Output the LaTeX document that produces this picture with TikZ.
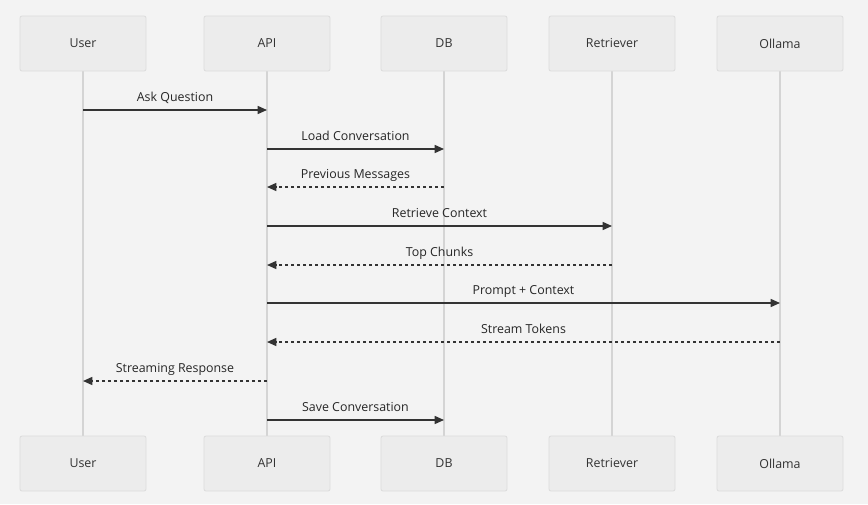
\documentclass[tikz,border=0pt]{standalone}
\usepackage{fontspec}
\setmainfont{Open Sans}
\usetikzlibrary{arrows.meta}
\definecolor{bgc}{HTML}{F3F3F3}
\definecolor{actfill}{HTML}{ECECEC}
\definecolor{actline}{HTML}{DCDCDC}
\definecolor{life}{HTML}{D4D4D4}
\definecolor{msgc}{HTML}{333333}

\begin{document}
\begin{tikzpicture}[x=0.75pt,y=-0.75pt,
  actor/.style={draw=actline,fill=actfill,rounded corners=1.5pt,line width=0.6pt,
    minimum width=94.5pt,minimum height=41.25pt,font=\fontsize{9.3}{11}\selectfont,text=black!80},
  lifeline/.style={draw=life,line width=0.9pt},
  msg/.style={draw=msgc,line width=1.1pt,-{Triangle[length=7pt,width=6pt]}},
  reply/.style={msg,dash pattern=on 2.5pt off 2pt},
  lbl/.style={above=0.4pt,text height=7pt,text depth=2pt,
    font=\fontsize{9.3}{11}\selectfont,text=black!85}]
  \fill[bgc] (0,0) rectangle (868,504);
  \useasboundingbox (0,0) rectangle (868,504);
  % participants, top and bottom
  \foreach \n/\t/\x in {user/User/83,api/API/267,db/DB/444,ret/Retriever/612,oll/Ollama/780} {
    \draw[lifeline] (\x,71) -- (\x,436);
    \node[actor] (top-\n) at (\x,43.5) {\t};
    \node[actor] (bot-\n) at (\x,463.5) {\t};
  }
  % messages
  \draw[msg] (top-user |- 0,110) -- (top-api |- 0,110) node[midway,lbl] {Ask Question};
  \draw[msg] (top-api |- 0,149) -- (top-db |- 0,149) node[midway,lbl] {Load Conversation};
  \draw[reply] (top-db |- 0,187) -- (top-api |- 0,187) node[midway,lbl] {Previous Messages};
  \draw[msg] (top-api |- 0,226) -- (top-ret |- 0,226) node[midway,lbl] {Retrieve Context};
  \draw[reply] (top-ret |- 0,265) -- (top-api |- 0,265) node[midway,lbl] {Top Chunks};
  \draw[msg] (top-api |- 0,303) -- (top-oll |- 0,303) node[midway,lbl] {Prompt + Context};
  \draw[reply] (top-oll |- 0,342) -- (top-api |- 0,342) node[midway,lbl] {Stream Tokens};
  \draw[reply] (top-api |- 0,381) -- (top-user |- 0,381) node[midway,lbl] {Streaming Response};
  \draw[msg] (top-api |- 0,420) -- (top-db |- 0,420) node[midway,lbl] {Save Conversation};
\end{tikzpicture}
\end{document}
